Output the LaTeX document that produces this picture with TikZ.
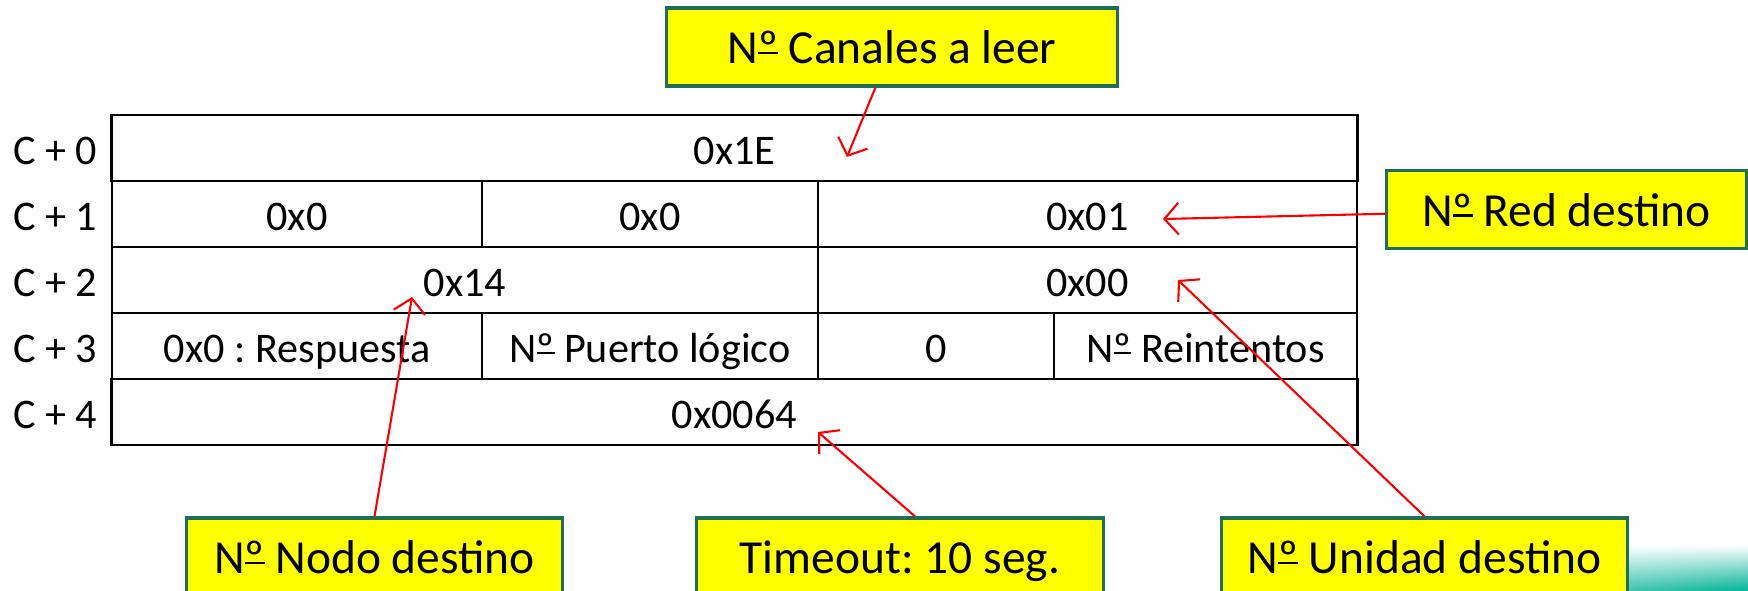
\documentclass[tikz,border=0pt]{standalone}
\usepackage{fontspec}
\setmainfont{Carlito}
\usetikzlibrary{arrows.meta,fadings}
\definecolor{amarillo}{RGB}{255,255,0}
\definecolor{verdeborde}{RGB}{30,110,90}
\definecolor{fondo}{RGB}{0,178,150}
\newcommand\numero{N\setbox0\hbox{º}\rlap{\rule[0.2em]{\wd0}{0.06em}}\box0}
\frenchspacing
\begin{document}
\begin{tikzpicture}[x=0.01cm,y=-0.01cm]
\tikzstyle{celda}=[draw,line width=0.7pt,minimum height=0.66cm,inner sep=0pt,text height=10.5pt,text depth=1pt,font=\fontsize{12}{14}\selectfont]
\tikzstyle{fila}=[inner sep=0pt,text height=10.5pt,text depth=1pt,font=\fontsize{12}{14}\selectfont]
\tikzstyle{nota}=[draw=verdeborde,fill=amarillo,line width=0.9pt,minimum height=0.78cm,inner sep=0pt,text height=11pt,text depth=1.4pt,font=\fontsize{13.5}{16}\selectfont]
\tikzstyle{flecha}=[draw=red,line width=0.6pt,-{Straight Barb[length=4pt,width=9pt]}]
\useasboundingbox (0,0) rectangle (1748,591);
\shade[top color=white,bottom color=fondo,path fading=west] (1250,545) rectangle (1748,591);

\path (55,148) node[fila](c0){C + 0} (55,214) node[fila](c1){C + 1}
      (55,280) node[fila](c2){C + 2} (55,346) node[fila](c3){C + 3}
      (55,412) node[fila](c4){C + 4};

\path (734.5,148) node[celda,minimum width=12.45cm](canales){0x1E};
\path (297,214) node[celda,minimum width=3.70cm](redA){0x0}
      (650,214) node[celda,minimum width=3.36cm](redB){0x0}
      (1087.5,214) node[celda,minimum width=5.39cm](red){0x01};
\path (465,280) node[celda,minimum width=7.06cm](nodo){0x14}
      (1087.5,280) node[celda,minimum width=5.39cm](unidad){0x00};
\path (297,346) node[celda,minimum width=3.70cm](resp){0x0 : Respuesta}
      (650,346) node[celda,minimum width=3.36cm](puerto){\numero{} Puerto lógico}
      (936,346) node[celda,minimum width=2.36cm](cero){0}
      (1205.5,346) node[celda,minimum width=3.03cm](reint){\numero{} Reintentos};
\path (734.5,412) node[celda,minimum width=12.45cm](timeout){0x0064};

\path (892,47) node[nota,minimum width=4.50cm](nCanales){\numero{} Canales a leer}
      (1566.5,209.5) node[nota,minimum width=3.59cm](nRed){\numero{} Red destino}
      (374.5,557) node[nota,minimum width=3.75cm](nNodo){\numero{} Nodo destino}
      (900,557) node[nota,minimum width=4.06cm](nTimeout){Timeout: 10 seg.}
      (1424.5,557) node[nota,minimum width=4.05cm](nUnidad){\numero{} Unidad destino};

\coordinate (pCanales) at (847,157);
\coordinate (pRed) at (1163,219);
\coordinate (pNodo) at (412,297);
\coordinate (pTimeout) at (818,432);
\coordinate (pUnidad) at (1178,280);
\draw[flecha] (nCanales) -- (pCanales);
\draw[flecha] (nRed) -- (pRed);
\draw[flecha] (nNodo.north) -- (pNodo);
\draw[flecha] ([xshift=0.15cm]nTimeout.north) -- (pTimeout);
\draw[flecha] (nUnidad.north) -- (pUnidad);
\end{tikzpicture}
\end{document}
